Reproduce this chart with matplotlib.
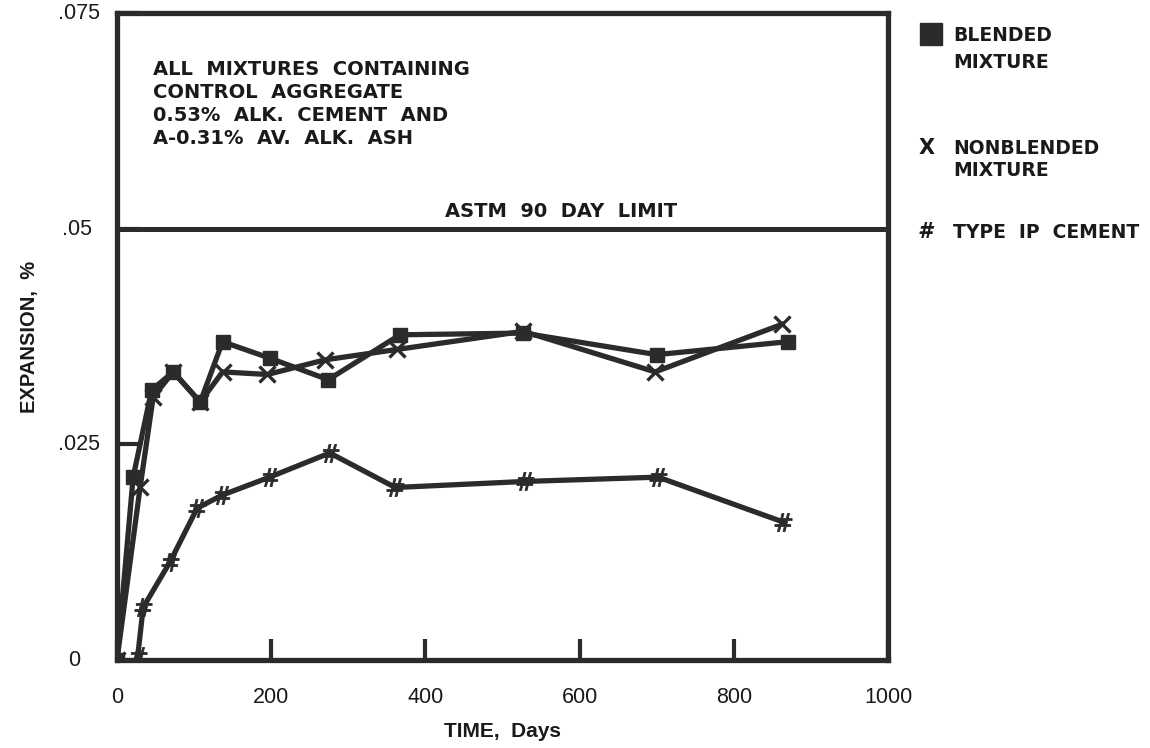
import matplotlib
matplotlib.use("Agg")
import matplotlib.pyplot as plt
from matplotlib.patches import Rectangle
from matplotlib.transforms import ScaledTranslation

# values
blended_days = [0, 21, 45, 73, 108, 137, 198, 274, 367, 527, 700, 870]
blended_exp = [0.0, 0.0212, 0.0313, 0.0334, 0.0299, 0.0369, 0.0350, 0.0325,
               0.0377, 0.0379, 0.0354, 0.0369]

nonblended_days = [0, 30, 47, 73, 108, 137, 195, 270, 363, 527, 698, 862]
nonblended_exp = [0.0, 0.0200, 0.0305, 0.0334, 0.0299, 0.0334, 0.0331, 0.0348,
                  0.0360, 0.0381, 0.0334, 0.0389]

typeip_days = [27, 34, 69, 104, 136, 198, 276, 361, 529, 702, 864]
typeip_exp = [0.0005, 0.0061, 0.0114, 0.0176, 0.0191, 0.0212, 0.0240, 0.0200,
              0.0207, 0.0212, 0.0160]

astm_limit = 0.05
x_ticks = [0, 200, 400, 600, 800, 1000]
y_ticks = [0, 0.025, 0.05, 0.075]
y_tick_labels = ["0", ".025", ".05", ".075"]

ink = "#2b2b2b"
txt = "#1a1a1a"
plt.rcParams["font.family"] = ["DejaVu Sans"]

fig = plt.figure(figsize=(11.5, 7.48), dpi=100)
ax = fig.add_axes([0.1017, 0.1176, 0.6705, 0.8650])

lw = 3.8
ax.plot(blended_days, blended_exp, color=ink, lw=lw, marker="s",
        markersize=9.5, markerfacecolor=ink, markeredgecolor=ink, zorder=3)
ax.plot(nonblended_days, nonblended_exp, color=ink, lw=lw, marker="x",
        markersize=11, markeredgewidth=2.4, markeredgecolor=ink, zorder=3)
ax.plot(typeip_days, typeip_exp, color=ink, lw=lw, marker=r"$\#$",
        markersize=13, markeredgewidth=0.6, markerfacecolor=ink,
        markeredgecolor=ink, zorder=3)

# ASTM limit line
ax.axhline(astm_limit, color=ink, lw=3.6, zorder=2)
ax.text(0.5765, astm_limit + 0.0014, "ASTM  90  DAY  LIMIT", ha="center",
        va="baseline", fontsize=14, fontweight="bold", color=txt,
        transform=ax.get_yaxis_transform())

ax.text(0.047, 0.928,
        "ALL  MIXTURES  CONTAINING\nCONTROL  AGGREGATE\n"
        "0.53%  ALK.  CEMENT  AND\nA-0.31%  AV.  ALK.  ASH",
        transform=ax.transAxes, ha="left", va="top", fontsize=14,
        fontweight="bold", color=txt, linespacing=1.27)

ax.set_xlim(0, 1000)
ax.set_ylim(0, 0.075)
ax.set_xticks(x_ticks)
ax.set_yticks(y_ticks)
ax.set_yticklabels(y_tick_labels)
ax.tick_params(axis="x", direction="in", length=15, width=3, color=ink,
               pad=19.5, labelsize=15.5, labelcolor=txt)
ax.tick_params(axis="y", direction="in", length=17, width=3, color=ink,
               pad=12, labelsize=15.5, labelcolor=txt)
for lab in ax.get_xticklabels() + ax.get_yticklabels():
    lab.set_family("Liberation Sans")
y_shift = [-0.20, 0.0, -0.08, 0.0]
for lab, dx in zip(ax.get_yticklabels(), y_shift):
    lab.set_transform(lab.get_transform() +
                      ScaledTranslation(dx, 0.02, fig.dpi_scale_trans))

for sp in ax.spines.values():
    sp.set_linewidth(3.8)
    sp.set_color(ink)

ax.set_xlabel("TIME,  Days", fontsize=15, fontweight="bold", labelpad=10,
              family="Liberation Sans", color=txt)
ax.set_ylabel("EXPANSION,  %", fontsize=14.5, fontweight="bold", labelpad=14,
              family="Liberation Sans", color=txt)

# legend drawn in figure coordinates
fig.add_artist(Rectangle((920 / 1150, 1 - 45 / 748), 22 / 1150, 22 / 748,
                         transform=fig.transFigure, color=ink))
leg_kw = dict(fontsize=13.5, fontweight="bold", va="center", color=txt)
fig.text(0.8287, 0.9519, "BLENDED", **leg_kw)
fig.text(0.8287, 0.9158, "MIXTURE", **leg_kw)
fig.text(0.806, 0.8021, "X", fontsize=15, fontweight="bold", va="center",
         ha="center", color=txt)
fig.text(0.8287, 0.8021, "NONBLENDED", **leg_kw)
fig.text(0.8287, 0.7727, "MIXTURE", **leg_kw)
fig.text(0.8043, 0.6898, "#", fontsize=15, fontweight="bold", va="center",
         ha="center", style="italic", color=txt)
fig.text(0.8287, 0.6898, "TYPE  IP  CEMENT", **leg_kw)

fig.savefig("out.png", dpi=100)
